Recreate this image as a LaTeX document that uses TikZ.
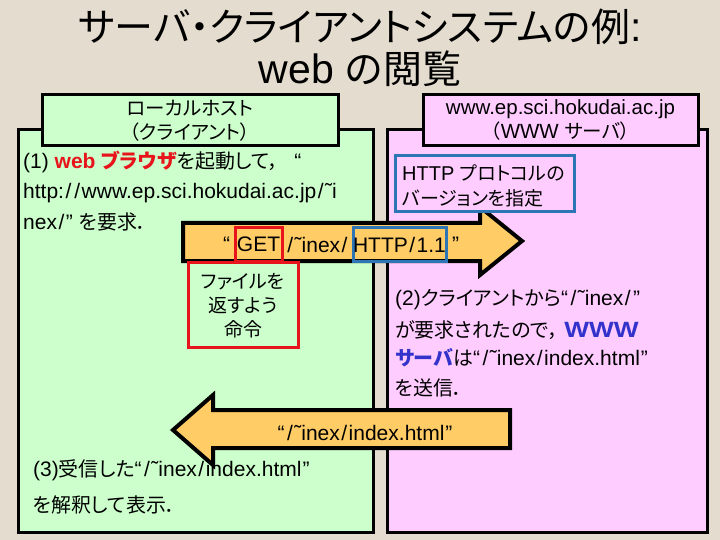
\documentclass[tikz,border=0pt]{standalone}
\usepackage{fontspec}
\usetikzlibrary{calc}
\setmainfont{Liberation Sans}
\newfontfamily\jp{Noto Sans CJK JP}[Scale=0.95,RawFeature=+palt]
\newcommand\J[1]{{\jp #1}}
\newcommand\Qo{“\kern1pt}
\newcommand\Qc{\kern1pt”}
\newcommand\SL{\kern1.5pt/\kern1.5pt}
\definecolor{bgc}{HTML}{E4DDCF}
\definecolor{lgreen}{HTML}{CCFFCC}
\definecolor{lpink}{HTML}{FFCCFF}
\definecolor{lorange}{HTML}{FFCC66}
\definecolor{hred}{HTML}{E8141B}
\definecolor{hblue}{HTML}{2E75B6}
\definecolor{tblue}{HTML}{3333CC}
\begin{document}
\begin{tikzpicture}[x=1pt,y=-1pt,
  bigbox/.style={draw=black,line width=3pt,inner sep=0pt},
  headbox/.style={draw=black,line width=3pt,align=center,inner sep=0pt,font=\fontsize{20.5}{24}\selectfont},
  txt/.style={anchor=west,inner sep=0pt,font=\fontsize{21}{24}\selectfont},
  arrowshape/.style={draw=black,line width=4pt,fill=lorange,line join=miter},
  hlbox/.style={line width=3pt,inner sep=0pt,font=\fontsize{21}{24}\selectfont}]
\path[fill=bgc] (0,0) rectangle (720,540);
\useasboundingbox (0,0) rectangle (720,540);
% title
\node[font=\fontsize{41}{44}\selectfont] (t1) at (360,27) {\J{サーバ・クライアントシステムの例}:};
\node[font=\fontsize{41}{44}\selectfont] (t2) at (360,69) {web \J{の閲覧}};
% big boxes
\node[bigbox,fill=lgreen,minimum width=355pt,minimum height=402pt] (client) at (195.5,331) {};
\node[bigbox,fill=lpink,minimum width=320pt,minimum height=402pt] (server) at (547,331) {};
% header boxes
\node[headbox,fill=lgreen,minimum width=296pt,minimum height=51pt] (hc) at (190,120.5) {\J{ローカルホスト}\\\J{（クライアント）}};
\node[headbox,fill=lpink,minimum width=275pt,minimum height=51pt] (hs) at (560.5,120.5) {www.ep.sci.hokudai.ac.jp\\\J{（}WWW \J{サーバ）}};
% left text (1)
\node[txt] (l1) at (23,162) {(1) {\bfseries\color{hred}web \J{ブラウザ}}\J{を起動して，}\hspace{16pt}“};
\node[txt] (l2) at (23,193) {http:\SL\SL www.ep.sci.hokudai.ac.jp\SL˜i};
\node[txt] (l3) at (23,222) {nex\SL” \J{を要求．}};
% GET arrow
\path[arrowshape] (183,223) -- (480,223) -- (480,207) -- (522,241) -- (480,275) -- (480,261) -- (183,261) -- cycle;
\node[hlbox,draw=hred,minimum width=47pt,minimum height=33pt] (get) at (258.5,244.5) {GET};
\node[hlbox,draw=hblue,minimum width=93pt,minimum height=33pt] (ver) at (399.5,244.5) {HTTP\SL 1.1};
\node[hlbox,anchor=east] (q1) at ([xshift=-2pt]get.west) {“};
\node[hlbox] (path) at ($(get.east)!0.5!(ver.west)$) {\SL˜inex\SL};
\node[hlbox,anchor=west] (q2) at ([xshift=3pt]ver.east) {”};
% HTTP version box
\node[draw=hblue,line width=3pt,fill=lpink,minimum width=179pt,minimum height=56pt,inner sep=0pt] (httpbox) at (484.5,184) {};
\node[txt,font=\fontsize{20}{24}\selectfont] (h1) at (402,173) {HTTP \J{プロトコルの}};
\node[txt,font=\fontsize{20}{24}\selectfont] (h2) at (402,198) {\J{バージョンを指定}};
% red command box
\node[draw=hred,line width=3pt,minimum width=110pt,minimum height=85pt,inner sep=0pt] (cmd) at (243,304.5) {};
\node[font=\fontsize{20}{24}\selectfont,inner sep=0pt] (c1) at (243,282) {\J{ファイルを}};
\node[font=\fontsize{20}{24}\selectfont,inner sep=0pt] (c2) at (243,305) {\J{返すよう}};
\node[font=\fontsize{20}{24}\selectfont,inner sep=0pt] (c3) at (243,329) {\J{命令}};
% right text (2)
\node[txt] (r1) at (395,300) {(2)\J{クライアントから}\Qo\SL˜inex\SL\Qc};
\node[txt] (r2) at (395,330) {\J{が要求されたので，}\hspace{6pt}{\bfseries\color{tblue}\scalebox{1.25}[1.05]{WWW}}};
\node[txt] (r3) at (395,358) {{\bfseries\color{tblue}\J{サーバ}}\J{は}\Qo\SL˜inex\SL index.html\Qc};
\node[txt] (r4) at (395,388) {\J{を送信．}};
% return arrow
\path[arrowshape] (510,410) -- (213,410) -- (213,395) -- (173,430) -- (213,465) -- (213,448) -- (510,448) -- cycle;
\node[font=\fontsize{21}{24}\selectfont,inner sep=0pt] (ret) at (365,433) {\Qo\SL˜inex\SL index.html\Qc};
% text (3)
\node[txt] (b1) at (33,470) {(3)\J{受信した}\Qo\SL˜inex\SL index.html\Qc};
\node[txt] (b2) at (33,505) {\J{を解釈して表示．}};
\end{tikzpicture}
\end{document}
